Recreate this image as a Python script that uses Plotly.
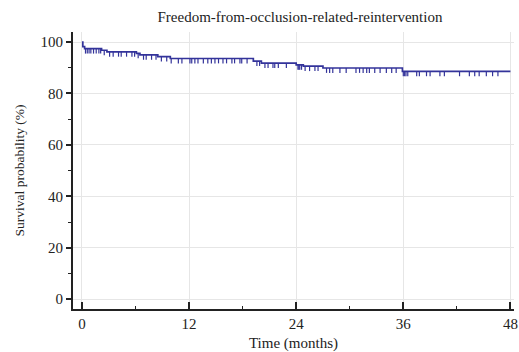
import plotly.graph_objects as go
import numpy as np

# Kaplan-Meier step function (event times in months, survival %)
event_times = [0, 0.1, 0.3, 2.2, 2.8, 6.1, 6.5, 8.5, 9.9, 19.2, 20.1, 24.0, 24.8, 27.0, 35.9, 48.0]
survival = [100, 98.2, 97.4, 96.8, 96.2, 95.6, 95.0, 94.3, 93.6, 92.6, 91.8, 91.1, 90.6, 89.9, 88.6, 88.6]

# Censored observations (months)
censor_times = [0.4, 0.6, 0.8, 1.0, 1.3, 1.6, 1.9, 2.1, 2.5, 3.1, 3.5, 4.1, 4.4, 5.0, 5.6, 5.9,
                6.3, 6.9, 7.2, 7.8, 8.3, 8.9, 9.5, 10.0, 10.8, 11.2, 12.1, 12.3, 12.65, 13.0,
                13.6, 14.1, 14.5, 14.9, 15.3, 15.8, 16.2, 16.8, 17.1, 17.7, 17.9, 18.5,
                19.6, 19.9, 20.5, 20.85, 21.4, 21.6, 22.0, 22.9, 24.2, 24.3, 24.4, 24.6,
                25.0, 25.5, 26.1, 26.45, 27.4, 27.75, 28.1, 28.9, 29.6, 30.7, 31.1, 31.5,
                31.9, 32.2, 32.8, 33.4, 34.1, 34.7, 35.2, 36.0, 36.15, 36.3, 36.5, 37.5,
                37.8, 38.6, 39.0, 40.1, 40.6, 42.3, 43.4, 44.0, 44.5, 45.3, 46.0, 46.6]

x_ticks = [0, 12, 24, 36, 48]
y_ticks = [0, 20, 40, 60, 80, 100]

title_text = "Freedom-from-occlusion-related-reintervention"
x_title = "Time (months)"
y_title = "Survival probability (%)"

LINE = "#33339a"
FONT = "Liberation Serif, Times New Roman, serif"

# survival level at each censoring time (step lookup)
et = np.array(event_times)
sv = np.array(survival)
censor_y = [sv[np.searchsorted(et, t, side="right") - 1] for t in censor_times]

fig = go.Figure()
fig.add_trace(go.Scatter(
    x=event_times, y=survival, mode="lines",
    line=dict(color=LINE, width=1.7, shape="hv"),
    showlegend=False, hoverinfo="skip"))
fig.add_trace(go.Scatter(
    x=censor_times, y=censor_y, mode="markers",
    marker=dict(size=1, color="rgba(0,0,0,0)"),
    error_y=dict(type="data", symmetric=False, array=[0] * len(censor_times),
                 arrayminus=[1.9] * len(censor_times), width=0,
                 color=LINE, thickness=1.2),
    showlegend=False, hoverinfo="skip"))

fig.update_layout(
    width=519, height=352,
    margin=dict(l=73, r=5, t=32, b=43),
    paper_bgcolor="white", plot_bgcolor="white",
    font=dict(family=FONT, size=15, color="#222"),
    title=dict(text=title_text, x=0.578, xanchor="center", y=1 - 17 / 352,
               yanchor="middle", yref="container",
               font=dict(family=FONT, size=15, color="#222")),
    xaxis=dict(
        range=[-1.0, 48.4], tickmode="array", tickvals=x_ticks,
        ticktext=[str(v) for v in x_ticks], automargin=False,
        showgrid=True, gridcolor="#e6e6e6", gridwidth=1, zeroline=False,
        showline=True, linecolor="#222", linewidth=2,
        ticks="inside", ticklen=7, tickwidth=1.5, tickcolor="#222",
        minor=dict(dtick=6, tick0=0, ticks="inside", ticklen=3, tickcolor="#222",
                   tickwidth=1, showgrid=False),
        title=dict(text=x_title, standoff=9, font=dict(size=15)),
        tickfont=dict(size=15),
    ),
    yaxis=dict(
        range=[-3.8, 103.9], tickmode="array", tickvals=y_ticks,
        ticktext=[str(v) for v in y_ticks], automargin=False,
        showgrid=True, gridcolor="#e6e6e6", gridwidth=1, zeroline=False,
        showline=True, linecolor="#222", linewidth=2,
        ticks="outside", ticklen=5, tickwidth=1.5, tickcolor="#222",
        minor=dict(dtick=10, tick0=0, ticks="outside", ticklen=3, tickcolor="#222",
                   tickwidth=1, showgrid=False),
        title=dict(text=y_title, standoff=13, font=dict(size=13.5)),
        tickfont=dict(size=15),
    ),
)

fig.write_html("out.html", config={"responsive": False, "displayModeBar": False},
               post_script="document.body.style.margin='0';document.body.style.overflow='hidden';")
